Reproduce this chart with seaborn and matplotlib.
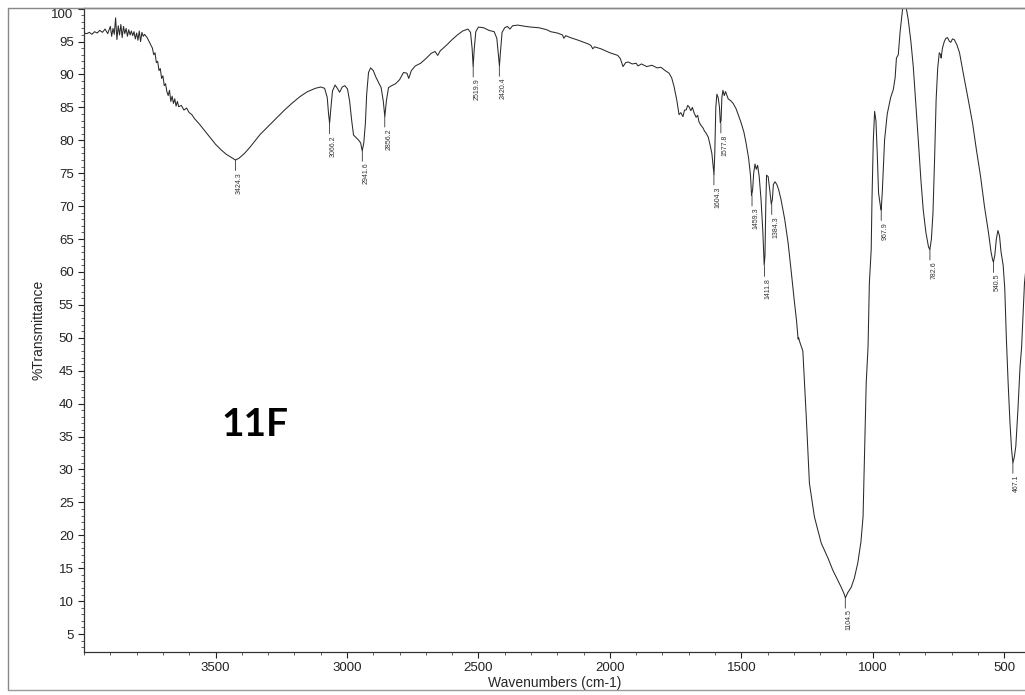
import numpy as np
import pandas as pd
import seaborn as sns
import matplotlib.pyplot as plt
from matplotlib.ticker import MultipleLocator
from matplotlib.lines import Line2D

# IR spectrum 11F (wavenumber cm-1, %T)
wavenumber = [
    4000, 3990, 3980, 3970, 3960, 3950, 3940, 3930, 3920, 3910, 3900, 3895, 3890, 3885,
    3880, 3875, 3870, 3865, 3860, 3855, 3850, 3845, 3840, 3835, 3830, 3825, 3820, 3815,
    3810, 3805, 3800, 3795, 3790, 3785, 3780, 3775, 3770, 3760, 3750, 3740, 3735, 3730,
    3725, 3720, 3715, 3710, 3705, 3700, 3695, 3690, 3685, 3680, 3675, 3670, 3665, 3660,
    3655, 3650, 3645, 3640, 3630, 3620, 3610, 3600, 3590, 3580, 3560, 3540, 3520, 3500,
    3480, 3460, 3440, 3424, 3410, 3390, 3370, 3350, 3330, 3300, 3270, 3240, 3210, 3180,
    3150, 3120, 3100, 3085, 3075, 3070, 3066, 3062, 3055, 3045, 3035, 3028, 3018, 3008,
    2998, 2990, 2982, 2975, 2965, 2955, 2948, 2942, 2936, 2930, 2925, 2918, 2910, 2900,
    2890, 2880, 2870, 2862, 2856, 2850, 2842, 2830, 2815, 2800, 2785, 2772, 2765, 2755,
    2740, 2720, 2700, 2680, 2665, 2655, 2645, 2620, 2600, 2580, 2560, 2540, 2530, 2524,
    2520, 2516, 2510, 2500, 2480, 2460, 2440, 2430, 2424, 2420, 2416, 2410, 2400, 2390,
    2380, 2370, 2350, 2320, 2300, 2270, 2240, 2225, 2200, 2180, 2175, 2168, 2150, 2120,
    2100, 2080, 2072, 2065, 2058, 2034, 2000, 1970, 1960, 1950, 1940, 1931, 1915, 1900,
    1893, 1880, 1860, 1840, 1820, 1806, 1790, 1775, 1765, 1756, 1745, 1737, 1730, 1722,
    1716, 1710, 1704, 1699, 1692, 1686, 1680, 1672, 1666, 1661, 1654, 1646, 1640, 1634,
    1626, 1620, 1612, 1606, 1604, 1601, 1597, 1593, 1588, 1583, 1580, 1577, 1574, 1570,
    1565, 1560, 1550, 1540, 1531, 1520, 1512, 1501, 1490, 1482, 1472, 1465, 1461, 1457,
    1453, 1448, 1443, 1438, 1432, 1425, 1418, 1413, 1410, 1407, 1404, 1398, 1392, 1386,
    1382, 1378, 1372, 1365, 1358, 1349, 1335, 1322, 1310, 1299, 1290, 1284, 1282, 1278,
    1266, 1253, 1241, 1222, 1196, 1170, 1152, 1135, 1120, 1110, 1104, 1095, 1082, 1070,
    1057, 1045, 1037, 1031, 1025, 1018, 1013, 1006, 1003, 998, 993, 988, 983, 978,
    971, 968, 964, 955, 945, 932, 922, 915, 910, 903, 896, 886, 880, 874,
    865, 855, 846, 837, 827, 817, 808, 798, 788, 783, 777, 771, 765, 759,
    753, 747, 742, 740, 735, 728, 722, 716, 708, 703, 697, 690, 680, 670,
    655, 637, 620, 606, 590, 575, 560, 550, 544, 541, 536, 530, 524, 518,
    512, 504, 498, 492, 485, 478, 472, 467, 462, 456, 448, 440, 434, 428,
    423, 415,
]
transmittance = [
    96.3, 96.2, 96.4, 96.1, 96.5, 96.3, 96.7, 96.4, 96.9, 96.2, 97.3, 95.8, 97.0, 96.1,
    98.6, 95.3, 97.4, 96.0, 97.6, 95.6, 97.3, 96.2, 97.0, 95.8, 96.8, 96.0, 96.6, 95.9,
    96.5, 95.4, 96.3, 95.2, 96.6, 95.0, 96.4, 95.8, 96.1, 95.6, 94.8, 94.0, 93.0, 93.3,
    91.8, 92.0, 90.6, 90.9, 89.4, 89.8, 88.3, 88.6, 87.4, 86.8, 87.6, 85.9, 86.7, 85.6,
    86.3, 85.2, 85.9, 85.1, 85.3, 84.6, 84.9, 84.2, 83.9, 83.3, 82.4, 81.4, 80.4, 79.4,
    78.6, 77.9, 77.4, 77.0, 77.3, 78.0, 78.9, 79.9, 80.9, 82.1, 83.3, 84.5, 85.6, 86.6,
    87.4, 87.9, 88.1, 87.9, 86.5, 84.0, 82.6, 84.5, 87.5, 88.4, 87.8, 87.3, 88.1, 88.3,
    87.8, 86.0, 83.0, 80.8, 80.4, 80.0, 79.6, 78.4, 79.6, 82.5, 87.0, 90.3, 91.0, 90.6,
    89.6, 88.8, 88.0, 86.0, 83.6, 86.0, 88.0, 88.3, 88.6, 89.2, 90.3, 90.2, 89.4, 90.6,
    91.3, 91.7, 92.4, 93.2, 93.5, 92.9, 93.6, 94.5, 95.3, 96.0, 96.6, 96.9, 96.4, 94.0,
    91.2, 93.8, 96.5, 97.2, 97.1, 96.7, 96.5, 95.5, 93.0, 91.3, 93.5, 96.4, 97.1, 97.3,
    96.9, 97.4, 97.5, 97.3, 97.2, 97.1, 96.8, 96.5, 96.3, 96.0, 95.5, 95.9, 95.6, 95.2,
    94.9, 94.6, 94.4, 93.9, 94.2, 93.9, 93.3, 92.9, 92.4, 91.2, 91.8, 91.9, 91.6, 91.7,
    91.3, 91.6, 91.2, 91.4, 91.0, 91.1, 90.6, 90.2, 89.5, 88.2, 86.0, 83.9, 84.2, 83.6,
    84.6, 84.6, 85.3, 85.1, 84.5, 85.0, 84.2, 83.5, 83.8, 82.8, 82.3, 81.9, 81.4, 81.1,
    80.5, 79.5, 78.0, 75.5, 74.8, 78.0, 85.0, 87.0, 86.5, 85.0, 82.7, 83.0, 86.5, 87.6,
    86.8, 87.4, 86.3, 86.0, 85.6, 84.8, 83.9, 82.7, 81.2, 79.6, 77.2, 74.6, 71.6, 72.5,
    75.0, 76.4, 75.6, 76.2, 74.5, 71.0, 66.0, 61.0, 62.5, 70.0, 74.7, 74.5, 72.5, 70.3,
    71.0, 73.3, 73.7, 73.3, 72.5, 71.0, 68.0, 64.4, 60.0, 55.8, 52.6, 49.8, 50.0, 49.4,
    48.0, 38.0, 27.9, 22.8, 18.8, 16.5, 14.7, 13.3, 12.1, 11.2, 10.5, 11.3, 12.1, 13.5,
    15.8, 19.0, 22.8, 33.0, 43.1, 48.6, 58.3, 63.4, 71.0, 80.0, 84.4, 83.0, 78.0, 72.0,
    70.0, 69.4, 72.0, 80.1, 84.0, 86.5, 87.7, 89.5, 92.5, 93.0, 96.5, 100.2, 100.7, 100.4,
    98.3, 95.0, 91.2, 86.0, 80.1, 74.0, 69.4, 66.0, 63.8, 63.4, 65.0, 69.0, 77.0, 86.2,
    91.0, 93.3, 93.0, 92.5, 94.0, 95.0, 95.5, 95.6, 95.0, 94.9, 95.4, 95.3, 94.5, 93.3,
    90.0, 86.2, 82.5, 78.6, 74.5, 69.9, 66.0, 63.0, 61.8, 61.5, 62.5, 65.0, 66.3, 65.5,
    63.0, 61.0, 57.5, 50.0, 43.0, 37.0, 33.0, 31.0, 31.8, 33.5, 39.0, 45.5, 48.5, 54.0,
    58.3, 61.5,
]

peak_labels = ["3424.3", "3066.2", "2941.6", "2856.2", "2519.9", "2420.4", "1604.3",
               "1577.8", "1459.3", "1411.8", "1384.3", "1104.5", "967.9", "782.6",
               "540.5", "467.1"]
peak_wn = [3424.3, 3066.2, 2941.6, 2856.2, 2519.9, 2420.4, 1604.3, 1577.8, 1459.3,
           1411.8, 1384.3, 1104.5, 967.9, 782.6, 540.5, 467.1]
peak_t = [77.0, 82.6, 78.4, 83.6, 91.2, 91.3, 74.8, 82.7, 71.6, 60.9, 70.3, 10.5,
          69.4, 63.4, 61.5, 31.0]

x_ticks = [3500, 3000, 2500, 2000, 1500, 1000, 500]

df = pd.DataFrame({"wn": wavenumber, "T": transmittance})

sns.set_style("ticks")
plt.rcParams["font.family"] = ["Liberation Sans", "DejaVu Sans"]

fig = plt.figure(figsize=(10.25, 6.95), dpi=100)
ax = fig.add_axes([0.082, 0.0619, 0.918, 0.9266])

sns.lineplot(data=df, x="wn", y="T", sort=False, estimator=None,
             color="#2a2a2a", lw=0.75, ax=ax)

for lab, w, t in zip(peak_labels, peak_wn, peak_t):
    ax.annotate("", xy=(w, t), xytext=(0, -7.5), textcoords="offset points",
                arrowprops=dict(arrowstyle="-", lw=0.6, color="#333333",
                                shrinkA=0, shrinkB=0))
    ax.annotate(lab, xy=(w, t), xytext=(2.8, -8.5), textcoords="offset points",
                rotation=90, ha="center", va="top", fontsize=5, color="#333333")

ax.text(3350, 36.8, "11F", fontsize=28, fontweight="bold", family="Lato",
        ha="center", va="center", color="black")

ax.set_xlim(4000, 421)
ax.set_ylim(2.27, 100.1)
ax.set_xticks(x_ticks)
ax.xaxis.set_minor_locator(MultipleLocator(100))
ax.set_yticks(np.arange(5, 101, 5))
ax.yaxis.set_minor_locator(MultipleLocator(1))
ax.tick_params(which="major", length=4, width=0.8, labelsize=9.5, colors="#222222")
ax.tick_params(which="minor", length=2, width=0.6, colors="#444444")
ax.set_xlabel("Wavenumbers (cm-1)", fontsize=10, labelpad=1)
ax.set_ylabel("%Transmittance", fontsize=10, labelpad=4)

ax.spines["right"].set_visible(False)
for side in ["left", "bottom", "top"]:
    ax.spines[side].set_linewidth(0.9)
    ax.spines[side].set_color("#333333")

fig.canvas.draw()
labels = ax.get_yticklabels()
labels[-1].set_va("top")

# scan border
fig.add_artist(Line2D([8 / 1025, 8 / 1025, 1.0], [5 / 695, 687 / 695, 687 / 695],
                      transform=fig.transFigure, color="#888888", lw=1))
fig.add_artist(Line2D([8 / 1025, 1.0], [5 / 695, 5 / 695],
                      transform=fig.transFigure, color="#999999", lw=1))

fig.savefig("out.png", dpi=100)
